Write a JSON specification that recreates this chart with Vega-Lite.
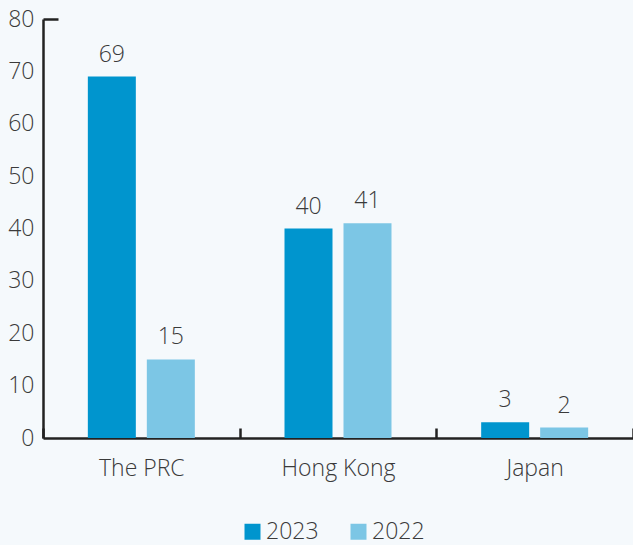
{
  "$schema": "https://vega.github.io/schema/vega-lite/v6.json",
  "autosize": "none",
  "width": 590,
  "height": 419,
  "padding": {"left": 43, "top": 19, "right": 0, "bottom": 107},
  "background": "#f5f9fc",
  "config": {"view": {"stroke": null}, "font": "Open Sans"},
  "data": {
    "values": [
      {"region": "The PRC", "year": "2023", "value": 69},
      {"region": "The PRC", "year": "2022", "value": 15},
      {"region": "Hong Kong", "year": "2023", "value": 40},
      {"region": "Hong Kong", "year": "2022", "value": 41},
      {"region": "Japan", "year": "2023", "value": 3},
      {"region": "Japan", "year": "2022", "value": 2}
    ]
  },
  "encoding": {
    "x": {
      "field": "region", "type": "nominal",
      "sort": ["The PRC", "Hong Kong", "Japan"],
      "scale": {"paddingInner": 0, "paddingOuter": 0},
      "axis": {
        "title": null, "labelAngle": 0, "tickBand": "extent",
        "tickSize": -10, "tickWidth": 2.5, "tickColor": "#222",
        "domainColor": "#222", "domainWidth": 2.5,
        "labelFontSize": 23, "labelFontWeight": 300, "labelColor": "#3a3a3a", "labelPadding": 29
      }
    },
    "xOffset": {
      "field": "year", "type": "nominal", "sort": ["2023", "2022"],
      "scale": {"paddingInner": 0.1864, "paddingOuter": 0.76}
    },
    "y": {
      "field": "value", "type": "quantitative",
      "scale": {"domain": [0, 80]},
      "axis": {
        "title": null, "grid": false, "values": [0, 10, 20, 30, 40, 50, 60, 70, 80],
        "domainColor": "#222", "domainWidth": 2.5,
        "tickSize": -15, "tickWidth": 2.5,
        "tickColor": {"condition": {"test": "datum.value === 80", "value": "#222"}, "value": "transparent"},
        "labelFontSize": 23, "labelFontWeight": 300, "labelColor": "#3a3a3a", "labelPadding": 24
      }
    }
  },
  "layer": [
    {
      "mark": {"type": "bar"},
      "encoding": {
        "color": {
          "field": "year", "type": "nominal",
          "scale": {"domain": ["2023", "2022"], "range": ["#0095ce", "#7cc6e5"]},
          "legend": {
            "title": null, "orient": "none", "legendX": 198, "legendY": 501,
            "direction": "horizontal", "symbolType": "square", "symbolSize": 256,
            "symbolStrokeWidth": 0, "labelFontSize": 23, "labelFontWeight": 300, "labelColor": "#3a3a3a",
            "labelOffset": 2, "columnPadding": 28
          }
        }
      }
    },
    {
      "mark": {"type": "text", "dy": -15, "baseline": "alphabetic", "fontSize": 23, "fontWeight": 300, "color": "#3a3a3a"},
      "encoding": {"text": {"field": "value", "type": "quantitative"}}
    }
  ]
}
